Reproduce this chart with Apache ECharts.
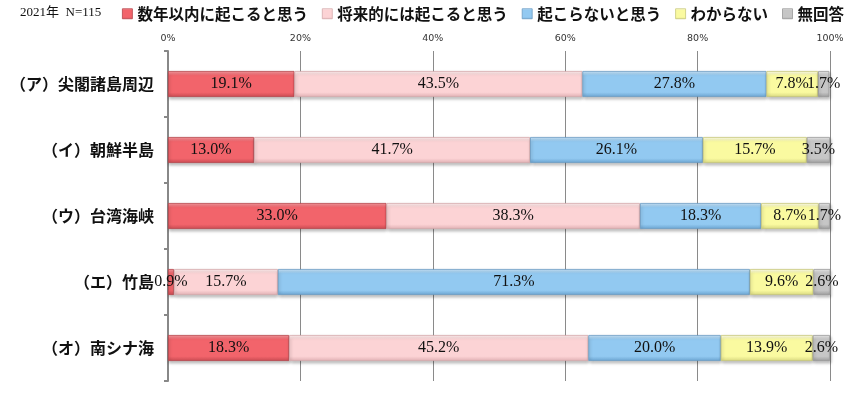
<!DOCTYPE html>
<html><head><meta charset="utf-8">
<script src="https://cdn.jsdelivr.net/npm/echarts@6/dist/echarts.min.js"></script>
<style>html,body{margin:0;padding:0;background:#fff}#c{width:860px;height:394px}</style>
</head><body><div id="c"></div>
<script>
const categories = ['（ア）尖閣諸島周辺','（イ）朝鮮半島','（ウ）台湾海峡','（エ）竹島','（オ）南シナ海'];
const seriesNames = ['数年以内に起こると思う','将来的には起こると思う','起こらないと思う','わからない','無回答'];
const soon = [19.1, 13.0, 33.0, 0.9, 18.3];
const future = [43.5, 41.7, 38.3, 15.7, 45.2];
const never = [27.8, 26.1, 18.3, 71.3, 20.0];
const unknown = [7.8, 15.7, 8.7, 9.6, 13.9];
const noAnswer = [1.7, 3.5, 1.7, 2.6, 2.6];
const xTicks = [0, 20, 40, 60, 80, 100];

const values = [soon, future, never, unknown, noAnswer];
const colors = [
  {top:'#f89aa0', mid:'#f2646b', bot:'#c94b52', border:'#b8444a'},
  {top:'#fff0f0', mid:'#fcd3d5', bot:'#e0b0b3', border:'#d6a9ac'},
  {top:'#cbe6fa', mid:'#92c9f1', bot:'#6aa3cf', border:'#6a9cc4'},
  {top:'#fffff0', mid:'#fafaa0', bot:'#d8d880', border:'#c8c878'},
  {top:'#eeeeee', mid:'#c6c6c6', bot:'#9c9c9c', border:'#999999'}
];
function grad(c){
  return new echarts.graphic.LinearGradient(0,0,0,1,[
    {offset:0,color:c.top},{offset:0.18,color:c.mid},{offset:0.82,color:c.mid},{offset:1,color:c.bot}
  ]);
}
const chart = echarts.init(document.getElementById('c'), null, {renderer:'canvas'});
const series = seriesNames.map((n,i)=>({
  name:n, type:'bar', stack:'total', barWidth:26,
  data: values[i],
  itemStyle:{color:grad(colors[i]), borderColor:colors[i].border, borderWidth:0.8,
    shadowColor:'rgba(0,0,0,0.25)', shadowBlur:3, shadowOffsetY:2, shadowOffsetX:1},
  label:{show:true, position:'inside', formatter:p=>p.value.toFixed(1)+'%',
    fontFamily:'"Liberation Serif", serif', fontSize:16, color:'#111'},
  emphasis:{disabled:true}
}));
chart.setOption({
  animation:false,
  graphic:[{type:'text', left:20, top:6, style:{text:'2021年  N=115', font:'13px "Liberation Serif", "Noto Sans CJK JP", serif', fill:'#111'}}],
  legend:{left:122, top:6, padding:0, width:736, icon:'rect', itemWidth:10, itemHeight:10, itemGap:14,
    data: seriesNames.map((n,i)=>({name:n, itemStyle:{color:grad(colors[i]), borderColor:colors[i].border, borderWidth:0.8}})),
    textStyle:{fontFamily:'"Noto Sans CJK JP", sans-serif', fontWeight:'bold', fontSize:15.5, color:'#111'}},
  grid:{left:168, right:30, top:51, bottom:13, containLabel:false},
  xAxis:{type:'value', position:'top', min:0, max:100, interval:20,
    axisLabel:{formatter:v=>xTicks.includes(v)?v+'%':'', fontFamily:'"DejaVu Sans", sans-serif', fontSize:9.5, color:'#333', margin:7},
    axisLine:{show:false}, axisTick:{show:false},
    splitLine:{show:true, lineStyle:{color:'#8a8a8a', width:1}}},
  yAxis:{type:'category', data:categories, inverse:true,
    axisLine:{show:true, lineStyle:{color:'#888', width:2}},
    axisTick:{show:true, length:4, lineStyle:{color:'#888', width:2}},
    axisLabel:{fontFamily:'"Noto Sans CJK JP", sans-serif', fontWeight:'bold', fontSize:16, color:'#111', margin:14}},
  series
});
</script></body></html>
